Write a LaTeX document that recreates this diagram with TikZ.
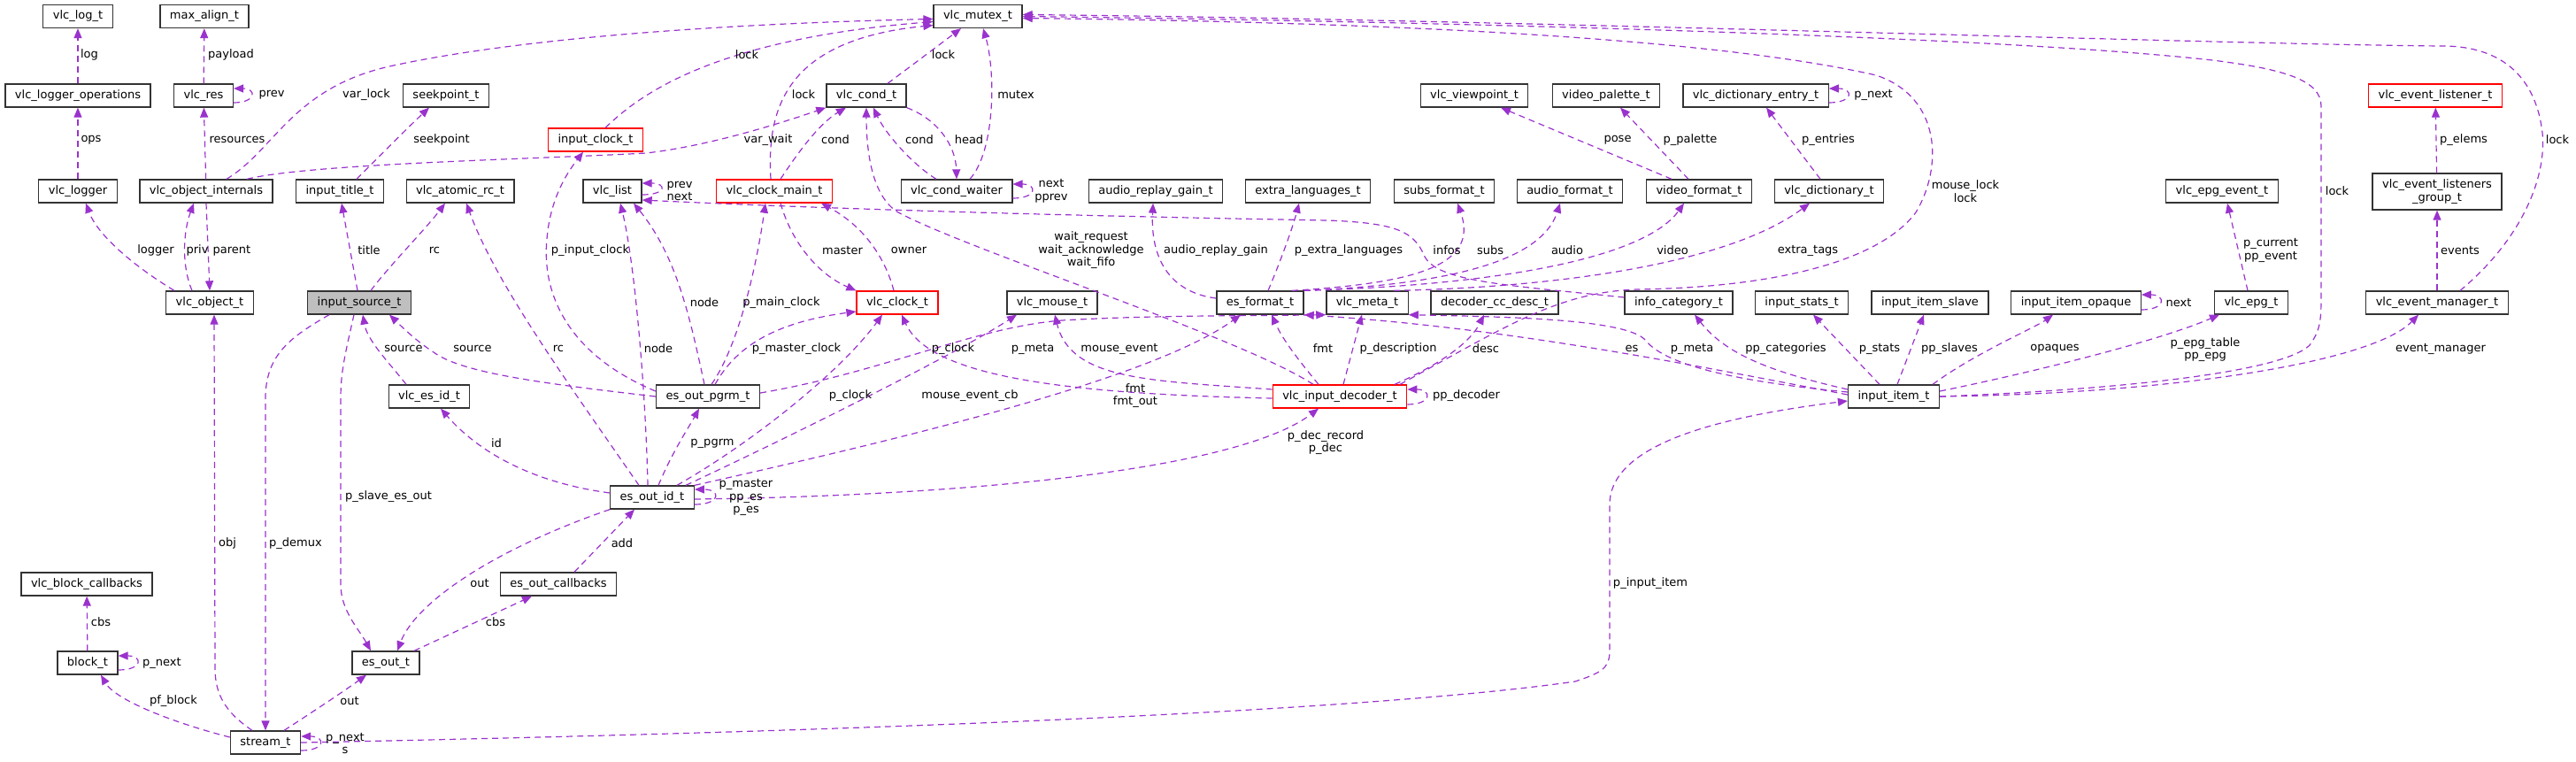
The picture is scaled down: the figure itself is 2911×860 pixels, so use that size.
\documentclass[tikz,border=0pt]{standalone}
\usepackage{fontspec}
\setmainfont{DejaVu Sans}
\usetikzlibrary{arrows.meta}
\definecolor{edgepurple}{HTML}{9A32CD}
\definecolor{mainfill}{HTML}{BFBFBF}
\begin{document}
\begin{tikzpicture}[x=1pt, y=-1pt,
    cls/.style={draw=black!80, line width=1.3pt, fill=white, minimum height=26pt, inner xsep=11pt, inner ysep=0pt, font=\fontsize{13}{14.5}\selectfont},
    redcls/.style={cls, draw=red},
    maincls/.style={cls, fill=mainfill},
    use/.style={draw=edgepurple, line width=1.2pt, dash pattern=on 7pt off 5pt, -{Triangle[length=11pt,width=9pt,fill=edgepurple]}},
    lbl/.style={font=\fontsize{13}{14.5}\selectfont, inner sep=0pt, align=center}]
    \useasboundingbox (0,0) rectangle (2911,860);

    \node[cls] (logt) at (88,18.5) {vlc\_log\_t};
    \node[cls] (maxalign) at (231,18.5) {max\_align\_t};
    \node[cls] (mutex) at (1105,18.5) {vlc\_mutex\_t};
    \node[cls] (loggerops) at (88,108) {vlc\_logger\_operations};
    \node[cls] (res) at (230,108) {vlc\_res};
    \node[cls] (seekpoint) at (504,108) {seekpoint\_t};
    \node[cls] (cond) at (979,108) {vlc\_cond\_t};
    \node[cls] (viewpoint) at (1666,108) {vlc\_viewpoint\_t};
    \node[cls] (palette) at (1815,108) {video\_palette\_t};
    \node[cls] (dictentry) at (1984,108) {vlc\_dictionary\_entry\_t};
    \node[redcls] (listener) at (2752,108) {vlc\_event\_listener\_t};
    \node[redcls] (inputclock) at (673,158) {input\_clock\_t};
    \node[cls] (logger) at (88,216) {vlc\_logger};
    \node[cls] (objint) at (233,216) {vlc\_object\_internals};
    \node[cls] (titlet) at (384,216) {input\_title\_t};
    \node[cls] (atomicrc) at (520,216) {vlc\_atomic\_rc\_t};
    \node[cls] (list) at (692,216) {vlc\_list};
    \node[redcls] (clockmain) at (875,216) {vlc\_clock\_main\_t};
    \node[cls] (condwaiter) at (1081,216) {vlc\_cond\_waiter};
    \node[cls] (replaygain) at (1306,216) {audio\_replay\_gain\_t};
    \node[cls] (extralang) at (1478,216) {extra\_languages\_t};
    \node[cls] (subsfmt) at (1632,216) {subs\_format\_t};
    \node[cls] (audiofmt) at (1774,216) {audio\_format\_t};
    \node[cls] (videofmt) at (1920,216) {video\_format\_t};
    \node[cls] (dict) at (2067,216) {vlc\_dictionary\_t};
    \node[cls] (epgevent) at (2511,216) {vlc\_epg\_event\_t};
    \node[cls, minimum height=41pt, align=center] (listeners) at (2754,216.5) {vlc\_event\_listeners\\\_group\_t};
    \node[cls] (object) at (237,342) {vlc\_object\_t};
    \node[maincls] (source) at (406,342) {input\_source\_t};
    \node[redcls] (clock) at (1014,342) {vlc\_clock\_t};
    \node[cls] (mouse) at (1189,342) {vlc\_mouse\_t};
    \node[cls] (esformat) at (1424,342) {es\_format\_t};
    \node[cls] (meta) at (1545,342) {vlc\_meta\_t};
    \node[cls] (ccdesc) at (1689,342) {decoder\_cc\_desc\_t};
    \node[cls] (infocat) at (1897,342) {info\_category\_t};
    \node[cls] (stats) at (2036,342) {input\_stats\_t};
    \node[cls] (slave) at (2181,342) {input\_item\_slave};
    \node[cls] (opaque) at (2346,342) {input\_item\_opaque};
    \node[cls] (epg) at (2544,342) {vlc\_epg\_t};
    \node[cls] (evmanager) at (2754,342) {vlc\_event\_manager\_t};
    \node[cls] (esid) at (485,448) {vlc\_es\_id\_t};
    \node[cls] (pgrm) at (800,448) {es\_out\_pgrm\_t};
    \node[redcls] (decoder) at (1514,448) {vlc\_input\_decoder\_t};
    \node[cls] (item) at (2140,448) {input\_item\_t};
    \node[cls] (esoutid) at (737,562) {es\_out\_id\_t};
    \node[cls] (blockcb) at (98,660) {vlc\_block\_callbacks};
    \node[cls] (esoutcb) at (631,660) {es\_out\_callbacks};
    \node[cls] (block) at (99,749) {block\_t};
    \node[cls] (esout) at (436,749) {es\_out\_t};
    \node[cls] (stream) at (300,839) {stream\_t};

    \draw[use] (loggerops) -- (logt);
    \draw[use] (res) -- (maxalign);
    \draw[use] ([yshift=-8pt]res.east) .. controls +(26,0) and +(26,0) .. ([yshift=8pt]res.east);
    \draw[use] (objint) -- (res);
    \draw[use] (logger) -- (loggerops);
    \draw[use] ([xshift=-40pt]object.north) .. controls (150,300) and (110,265) .. ([xshift=9pt]logger.south);
    \draw[use] ([xshift=-20pt]object.north) .. controls (205,300) and (207,262) .. ([xshift=-14pt]objint.south);
    \draw[use] (objint.south) -- (object.north);
    \draw[use] ([xshift=23pt]objint.north) .. controls (310,170) and (330,100) .. (440,75) .. controls (600,40) and (850,26) .. ([yshift=-3pt]mutex.west);
    \draw[use] ([xshift=46pt]objint.north) .. controls (350,185) and (600,180) .. (730,173) .. controls (800,165) and (880,140) .. (cond.south west);
    \draw[use] ([xshift=-2pt]source.north) -- ([xshift=2pt]titlet.south);
    \draw[use] ([xshift=13pt]source.north) .. controls (440,300) and (480,260) .. ([xshift=-17pt]atomicrc.south);
    \draw[use] ([xshift=19pt]titlet.north) .. controls (430,175) and (460,145) .. ([xshift=-19pt]seekpoint.south);
    \draw[use] ([xshift=11pt]inputclock.north) .. controls (720,110) and (800,45) .. ([yshift=-6pt]mutex.west);
    \draw[use] ([xshift=-4pt]clockmain.north) .. controls (866,120) and (890,45) .. ([yshift=-10pt]mutex.west);
    \draw[use] ([xshift=24pt]cond.north) -- ([xshift=-19pt]mutex.south);
    \draw[use] ([xshift=15pt]condwaiter.north) .. controls (1125,170) and (1125,80) .. ([xshift=6pt]mutex.south);
    \draw[use] ([xshift=7pt]clockmain.north) .. controls (900,175) and (925,140) .. ([xshift=-23pt]cond.south);
    \draw[use] ([xshift=-23pt]condwaiter.north) .. controls (1030,185) and (1000,150) .. ([xshift=8pt]cond.south);
    \draw[use] (cond.south east) .. controls (1060,135) and (1080,165) .. (condwaiter.north);
    \draw[use] ([yshift=-8pt]condwaiter.east) .. controls +(28,0) and +(28,0) .. ([yshift=8pt]condwaiter.east);
    \draw[use] ([yshift=-4pt]list.east) .. controls +(28,0) and +(28,0) .. ([yshift=9pt]list.east);
    \draw[use] ([xshift=7pt]clockmain.south) .. controls (895,275) and (925,310) .. (clock.north west);
    \draw[use] ([xshift=-4pt]clock.north) .. controls (1000,290) and (975,255) .. ([xshift=53pt]clockmain.south);
    \draw[use] ([xshift=-30pt]decoder.north) .. controls (1400,380) and (1100,285) .. (1015,240) .. controls (985,222) and (979,170) .. (cond.south);
    \draw[use] ([yshift=5pt]esformat.west) .. controls (1320,330) and (1300,290) .. ([xshift=-3pt]replaygain.south);
    \draw[use] ([xshift=9pt]esformat.north) .. controls (1445,300) and (1460,260) .. ([xshift=-10pt]extralang.south);
    \draw[use] ([xshift=36pt]esformat.north) .. controls (1600,320) and (1672,300) .. ([xshift=15pt]subsfmt.south);
    \draw[use] (esformat.north east) .. controls (1620,322) and (1740,300) .. ([xshift=-11pt]audiofmt.south);
    \draw[use] (esformat.north east) .. controls (1700,322) and (1860,290) .. ([xshift=-17pt]videofmt.south);
    \draw[use] ([xshift=30pt]meta.north) .. controls (1750,325) and (1950,300) .. ([xshift=-22pt]dict.south);
    \draw[use] ([yshift=6pt]infocat.west) .. controls (1700,322) and (1625,318) .. (1610,290) .. controls (1598,262) and (1580,252) .. (1500,249) .. controls (1100,242) and (850,232) .. ([yshift=-10pt]list.east);
    \draw[use] ([xshift=-5pt]esoutid.north) .. controls (730,450) and (718,300) .. ([xshift=9pt]list.south);
    \draw[use] ([xshift=-4pt]pgrm.north) .. controls (780,360) and (765,290) .. ([xshift=24pt]list.south);
    \draw[use] ([xshift=4pt]pgrm.north) .. controls (835,390) and (855,300) .. ([xshift=-10pt]clockmain.south);
    \draw[use] ([xshift=8pt]pgrm.north) .. controls (830,395) and (870,365) .. ([yshift=-10pt]clock.west);
    \draw[use] ([yshift=6pt]pgrm.west) .. controls (640,400) and (612,330) .. (618,270) .. controls (622,220) and (645,190) .. ([xshift=-14pt]inputclock.south);
    \draw[use] (pgrm.west) .. controls (600,432) and (520,420) .. (490,398) .. controls (470,385) and (455,370) .. ([xshift=34pt]source.south);
    \draw[use] ([xshift=-26pt]esid.north) .. controls (440,410) and (415,385) .. ([xshift=4pt]source.south);
    \draw[use] ([xshift=-15pt]esoutid.north) .. controls (640,430) and (560,320) .. ([xshift=7pt]atomicrc.south);
    \draw[use] ([yshift=5pt]esoutid.west) .. controls (600,545) and (540,510) .. ([xshift=13pt]esid.south);
    \draw[use] ([xshift=7pt]esoutid.north) .. controls (760,510) and (780,480) .. ([xshift=-10pt]pgrm.south);
    \draw[use] ([xshift=28pt]esoutid.north) .. controls (850,500) and (950,420) .. ([xshift=-17pt]clock.south);
    \draw[use] ([xshift=-10pt]esoutid.north east) .. controls (900,490) and (1080,400) .. ([xshift=-40pt]mouse.south);
    \draw[use] (esoutid.north east) .. controls (1000,500) and (1300,430) .. ([xshift=-22pt]esformat.south);
    \draw[use] ([yshift=-2pt]esoutid.east) .. controls (1100,560) and (1400,530) .. ([xshift=-24pt]decoder.south);
    \draw[use] ([yshift=-8pt]esoutid.east) .. controls +(30,0) and +(30,0) .. ([yshift=9pt]esoutid.east);
    \draw[use] ([yshift=4pt]pgrm.east) .. controls (1000,420) and (1100,370) .. (1200,362) .. controls (1300,356) and (1420,357) .. (meta.south west);
    \draw[use] ([yshift=-2pt]decoder.west) .. controls (1200,445) and (1050,425) .. ([xshift=5pt]clock.south);
    \draw[use] ([yshift=8pt]decoder.west) .. controls (1300,430) and (1210,430) .. ([xshift=3pt]mouse.south);
    \draw[use] ([xshift=-24pt]decoder.north) .. controls (1470,410) and (1450,385) .. ([xshift=13pt]esformat.south);
    \draw[use] ([xshift=4pt]decoder.north) -- ([xshift=-6pt]meta.south);
    \draw[use] ([xshift=62pt]decoder.north) .. controls (1620,415) and (1660,390) .. ([xshift=-12pt]ccdesc.south);
    \draw[use] ([yshift=-9pt]decoder.east) .. controls +(28,0) and +(28,0) .. ([yshift=8pt]decoder.east);
    \draw[use] ([xshift=68pt]decoder.north) .. controls (1700,370) and (1760,330) .. (1850,327) .. controls (1990,325) and (2120,300) .. (2165,240) .. controls (2195,190) and (2195,110) .. (2120,85) .. controls (1900,35) and (1450,24) .. ([yshift=-2pt]mutex.east);
    \draw[use] (item.east) .. controls (2400,440) and (2580,420) .. (2610,390) .. controls (2623,372) and (2623,360) .. (2623,330) -- (2623,120) .. controls (2623,90) and (2580,78) .. (2500,68) .. controls (2250,40) and (1600,24) .. (mutex.east);
    \draw[use] ([xshift=26pt]evmanager.north) .. controls (2850,270) and (2878,200) .. (2873,150) .. controls (2866,90) and (2830,52) .. (2760,52) .. controls (2500,50) and (1700,22) .. ([yshift=2pt]mutex.east);
    \draw[use] (item.east) .. controls (2450,445) and (2680,410) .. ([xshift=-21pt]evmanager.south);
    \draw[use] ([yshift=6pt]item.east) .. controls (2300,420) and (2440,385) .. ([xshift=-36pt]epg.south);
    \draw[use] ([xshift=44pt]item.north) .. controls (2230,400) and (2300,370) .. ([xshift=-26pt]opaque.south);
    \draw[use] ([xshift=4pt]item.north) -- ([xshift=-7pt]slave.south);
    \draw[use] ([xshift=-16pt]item.north) -- ([xshift=13pt]stats.south);
    \draw[use] ([yshift=8pt]item.west) .. controls (2000,420) and (1950,400) .. ([xshift=18pt]infocat.south);
    \draw[use] ([yshift=5pt]item.west) .. controls (1950,430) and (1880,410) .. (1860,385) .. controls (1840,360) and (1700,358) .. (meta.south east);
    \draw[use] ([yshift=2pt]item.west) .. controls (1900,410) and (1700,370) .. (esformat.south east);
    \draw[use] (stream.east) .. controls (800,830) and (1500,810) .. (1780,770) .. controls (1810,760) and (1819,755) .. (1819,735) -- (1819,570) .. controls (1819,500) and (1950,470) .. ([yshift=-5pt]item.west);
    \draw[use] ([yshift=-8pt]opaque.east) .. controls +(28,0) and +(28,0) .. ([yshift=9pt]opaque.east);
    \draw[use] ([xshift=-4pt]epg.north) -- ([xshift=6pt]epgevent.south);
    \draw[use] (evmanager) -- (listeners);
    \draw[use] (listeners) -- (listener);
    \draw[use] ([xshift=-31pt]videofmt.north) -- ([xshift=30pt]viewpoint.south);
    \draw[use] ([xshift=-12pt]videofmt.north) -- ([xshift=16pt]palette.south);
    \draw[use] ([xshift=-10pt]dict.north) -- ([xshift=12pt]dictentry.south);
    \draw[use] ([yshift=-8pt]dictentry.east) .. controls +(28,0) and +(28,0) .. ([yshift=8pt]dictentry.east);
    \draw[use] ([xshift=-15pt]stream.north) .. controls (255,805) and (243,785) .. (243,755) -- ([xshift=5pt]object.south);
    \draw[use] ([xshift=-34pt]source.south) .. controls (330,380) and (300,400) .. (300,450) -- (stream.north);
    \draw[use] ([xshift=-6pt]source.south) .. controls (390,400) and (385,420) .. (385,450) -- (385,660) .. controls (385,690) and (405,710) .. ([xshift=-17pt]esout.north);
    \draw[use] (esoutid.south west) .. controls (560,620) and (470,680) .. ([xshift=13pt]esout.north);
    \draw[use] ([xshift=18pt]esoutcb.north) -- ([xshift=-20pt]esoutid.south);
    \draw[use] ([xshift=32pt]esout.north) -- ([xshift=-30pt]esoutcb.south);
    \draw[use] (block) -- (blockcb);
    \draw[use] ([yshift=-8pt]block.east) .. controls +(28,0) and +(28,0) .. ([yshift=8pt]block.east);
    \draw[use] ([yshift=6pt]stream.west) .. controls (190,815) and (130,790) .. ([xshift=15pt]block.south);
    \draw[use] ([xshift=21pt]stream.north) .. controls (360,800) and (390,780) .. ([xshift=-22pt]esout.south);
    \draw[use] ([yshift=-9pt]stream.east) .. controls +(28,0) and +(28,0) .. ([yshift=7pt]stream.east);

    \node[lbl] (l-log) at (101,62) {log};
    \node[lbl] (l-payload) at (261,62) {payload};
    \node[lbl] (l-prev) at (307,107) {prev};
    \node[lbl] (l-varlock) at (414,107) {var\_lock};
    \node[lbl] (l-ops) at (103,158) {ops};
    \node[lbl] (l-resources) at (268,158) {resources};
    \node[lbl] (l-seekpoint) at (499,158) {seekpoint};
    \node[lbl] (l-logger) at (176,283) {logger};
    \node[lbl] (l-priv) at (223,283) {priv};
    \node[lbl] (l-parent) at (262,283) {parent};
    \node[lbl] (l-title) at (417,283) {title};
    \node[lbl] (l-rc) at (491,283) {rc};
    \node[lbl] (l-pinputclock) at (667,283) {p\_input\_clock};
    \node[lbl] (l-source) at (456,394) {source};
    \node[lbl] (l-source2) at (534,394) {source};
    \node[lbl] (l-rc2) at (631,394) {rc};
    \node[lbl] (l-lock) at (844,62) {lock};
    \node[lbl] (l-lock2) at (1066,62) {lock};
    \node[lbl] (l-lock3) at (908,107) {lock};
    \node[lbl] (l-mutex) at (1148,107) {mutex};
    \node[lbl] (l-varwait) at (868,158) {var\_wait};
    \node[lbl] (l-cond) at (944,158) {cond};
    \node[lbl] (l-cond2) at (1039,158) {cond};
    \node[lbl] (l-head) at (1095,158) {head};
    \node[lbl] (l-prevnext) at (768,216) {prev\\next};
    \node[lbl] (l-nextpprev) at (1188,216) {next\\pprev};
    \node[lbl] (l-master) at (952,283) {master};
    \node[lbl] (l-owner) at (1027,283) {owner};
    \node[lbl] (l-wait) at (1233,283) {wait\_request\\wait\_acknowledge\\wait\_fifo};
    \node[lbl] (l-replaygain) at (1374,283) {audio\_replay\_gain};
    \node[lbl] (l-node) at (796,342) {node};
    \node[lbl] (l-pmainclock) at (883,342) {p\_main\_clock};
    \node[lbl] (l-node2) at (744,394) {node};
    \node[lbl] (l-pmasterclock) at (900,394) {p\_master\_clock};
    \node[lbl] (l-pclock) at (1077,394) {p\_clock};
    \node[lbl] (l-pmeta) at (1167,394) {p\_meta};
    \node[lbl] (l-mouseevent) at (1265,394) {mouse\_event};
    \node[lbl] (l-pclock2) at (961,447) {p\_clock};
    \node[lbl] (l-mouseeventcb) at (1096,447) {mouse\_event\_cb};
    \node[lbl] (l-fmtout) at (1283,447) {fmt\\fmt\_out};
    \node[lbl] (l-ppgrm) at (805,501) {p\_pgrm};
    \node[lbl] (l-pmaster) at (843,562) {p\_master\\pp\_es\\p\_es};
    \node[lbl] (l-pose) at (1828,158) {pose};
    \node[lbl] (l-ppalette) at (1910,158) {p\_palette};
    \node[lbl] (l-pentries) at (2066,158) {p\_entries};
    \node[lbl] (l-pnext) at (2117,107) {p\_next};
    \node[lbl] (l-pextralang) at (1524,283) {p\_extra\_languages};
    \node[lbl] (l-infos) at (1635,283) {infos};
    \node[lbl] (l-subs) at (1684,283) {subs};
    \node[lbl] (l-audio) at (1771,283) {audio};
    \node[lbl] (l-video) at (1890,283) {video};
    \node[lbl] (l-extratags) at (2043,283) {extra\_tags};
    \node[lbl] (l-fmt) at (1495,394) {fmt};
    \node[lbl] (l-pdescription) at (1580,394) {p\_description};
    \node[lbl] (l-desc) at (1679,394) {desc};
    \node[lbl] (l-es) at (1844,394) {es};
    \node[lbl] (l-pmeta2) at (1912,394) {p\_meta};
    \node[lbl] (l-ppcategories) at (2018,394) {pp\_categories};
    \node[lbl] (l-pstats) at (2124,394) {p\_stats};
    \node[lbl] (l-ppslaves) at (2203,394) {pp\_slaves};
    \node[lbl] (l-opaques) at (2322,394) {opaques};
    \node[lbl] (l-mouselock) at (2221,216) {mouse\_lock\\lock};
    \node[lbl] (l-lock4) at (2641,216) {lock};
    \node[lbl] (l-lock5) at (2890,158) {lock};
    \node[lbl] (l-pelems) at (2784,158) {p\_elems};
    \node[lbl] (l-pcurrent) at (2566,283) {p\_current\\pp\_event};
    \node[lbl] (l-events) at (2780,283) {events};
    \node[lbl] (l-next) at (2462,342) {next};
    \node[lbl] (l-pepg) at (2492,395) {p\_epg\_table\\pp\_epg};
    \node[lbl] (l-evmanager) at (2758,394) {event\_manager};
    \node[lbl] (l-ppdecoder) at (1657,447) {pp\_decoder};
    \node[lbl] (l-pdec) at (1498,500) {p\_dec\_record\\p\_dec};
    \node[lbl] (l-pinputitem) at (1865,659) {p\_input\_item};
    \node[lbl] (l-id) at (561,501) {id};
    \node[lbl] (l-pslave) at (439,561) {p\_slave\_es\_out};
    \node[lbl] (l-obj) at (257,614) {obj};
    \node[lbl] (l-pdemux) at (334,614) {p\_demux};
    \node[lbl] (l-add) at (703,614) {add};
    \node[lbl] (l-out) at (542,659) {out};
    \node[lbl] (l-cbs) at (114,703) {cbs};
    \node[lbl] (l-cbs2) at (560,703) {cbs};
    \node[lbl] (l-pnext2) at (183,749) {p\_next};
    \node[lbl] (l-pfblock) at (196,792) {pf\_block};
    \node[lbl] (l-out2) at (395,792) {out};
    \node[lbl] (l-pnexts) at (390,840) {p\_next\\s};
\end{tikzpicture}
\end{document}
